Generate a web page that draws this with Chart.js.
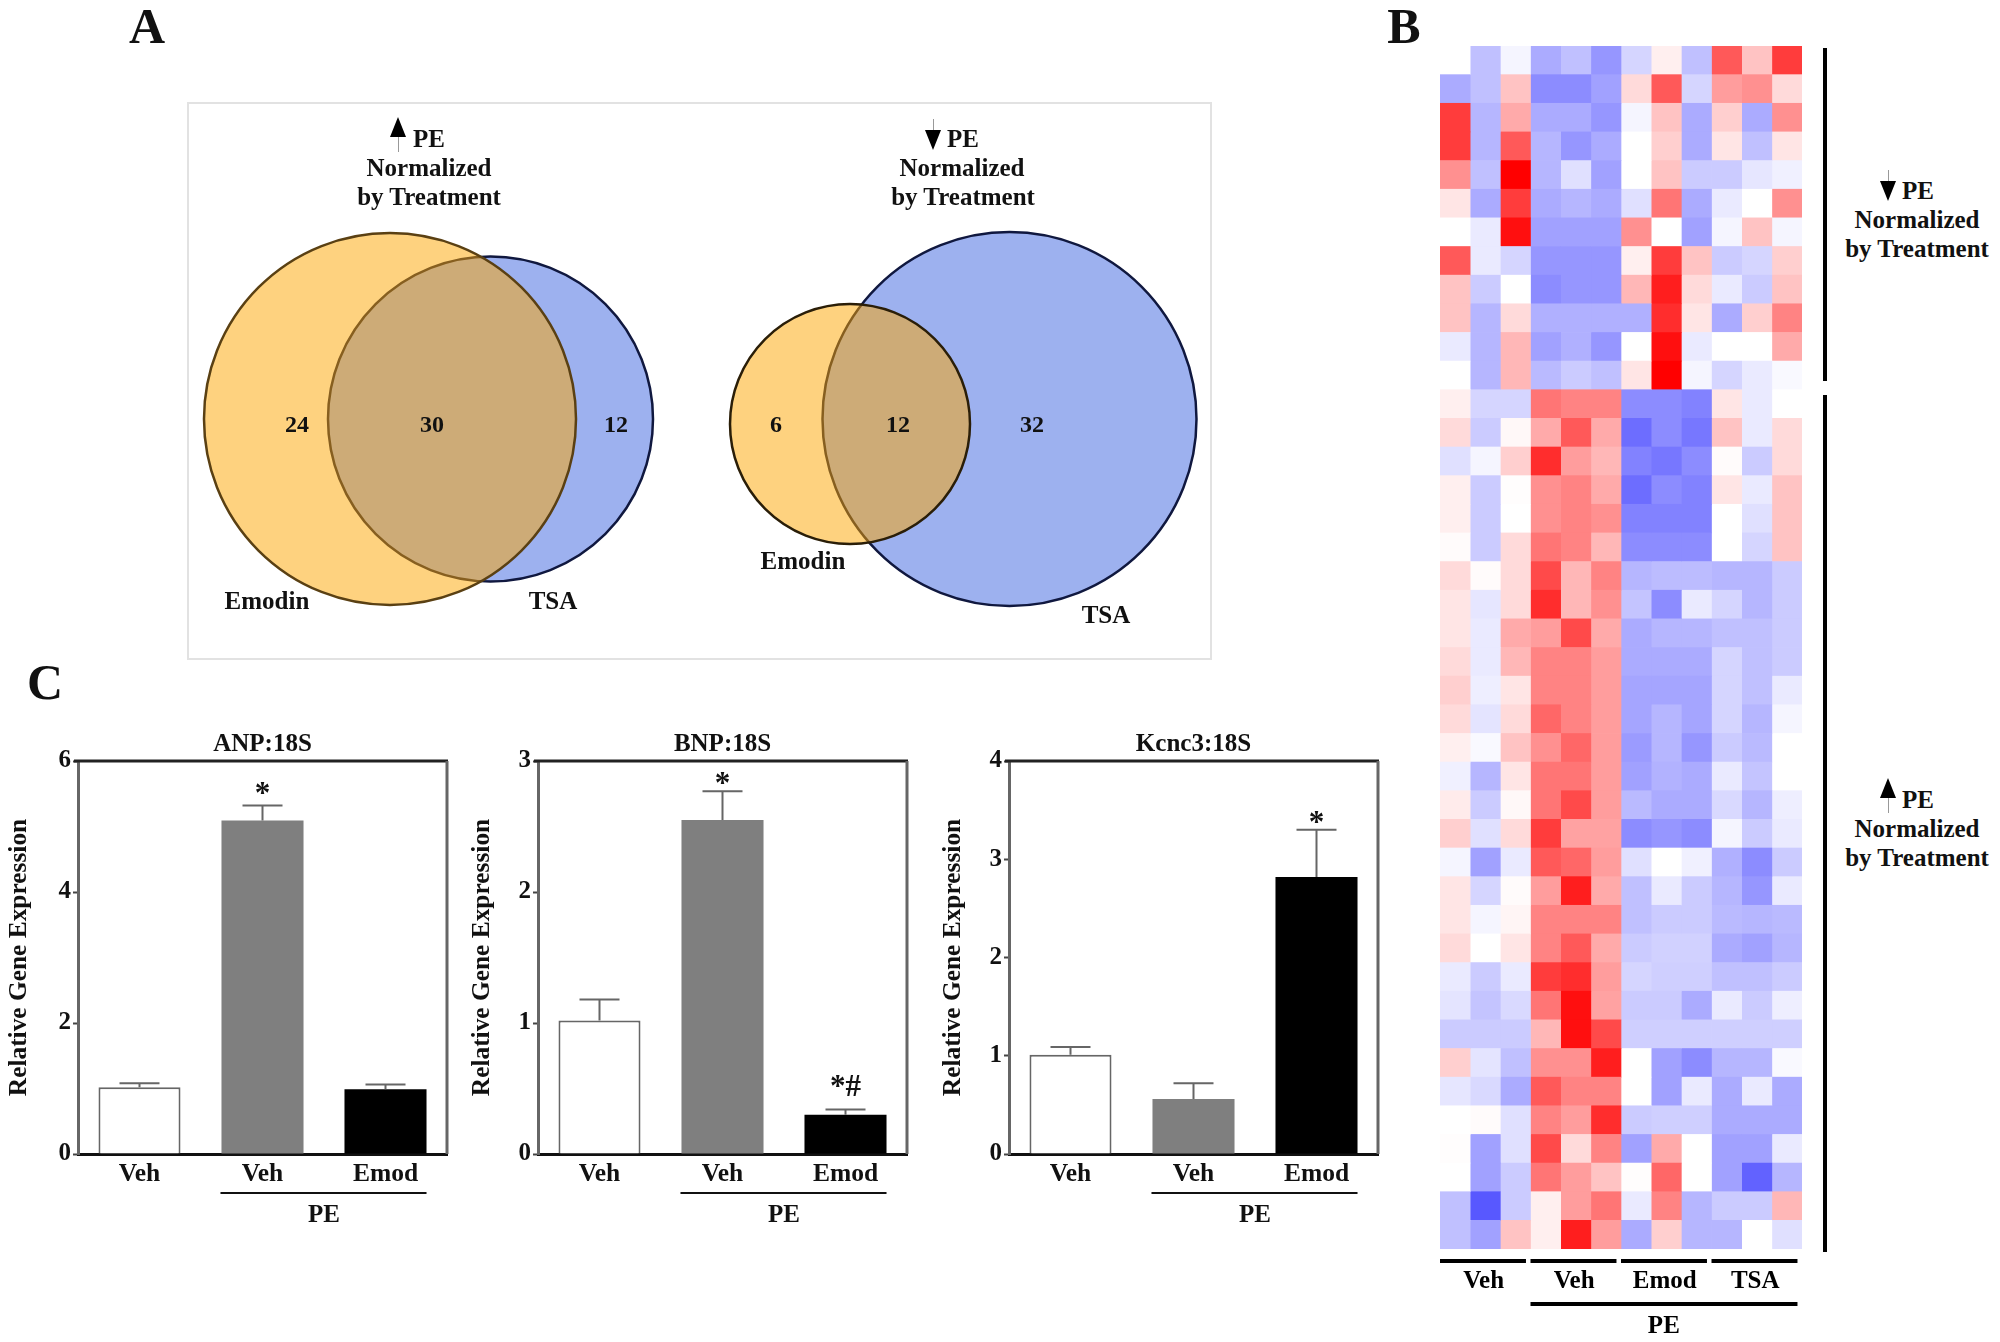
<!DOCTYPE html>
<html>
<head>
<meta charset="utf-8">
<title>Emodin and TSA figure</title>
<script src="https://cdn.jsdelivr.net/npm/chart.js@4"></script>
<style>
  html,body{margin:0;padding:0;background:#fff;}
  body{position:relative;width:2000px;height:1342px;overflow:hidden;font-family:"Liberation Serif",serif;font-weight:bold;color:#111;}
  canvas{position:absolute;}
  .txt{position:absolute;transform:translate(-50%,-50%);white-space:nowrap;line-height:1;}
  .frame{position:absolute;left:187px;top:102px;width:1021px;height:554px;border:2px solid #e2e2e2;}
  .bar{position:absolute;background:#000;}
  .tri{position:absolute;width:0;height:0;border-left:8px solid transparent;border-right:8px solid transparent;}
  .stem{position:absolute;width:1px;background:#999;}
</style>
</head>
<body>

<div class="frame"></div>
<canvas id="venn" style="left:187px;top:102px"></canvas>
<canvas id="anp" style="left:0px;top:730px"></canvas>
<canvas id="bnp" style="left:460px;top:730px"></canvas>
<canvas id="kcnc" style="left:931px;top:730px"></canvas>
<canvas id="heat" style="left:1440px;top:46px"></canvas>

<script>
// =========================
// data
// =========================

// venn circles, in picture pixels of the framed box
const vennEmodinX = [203,663];
const vennEmodinY = [317,322];
const vennEmodinR = [186,120];
const vennTsaX = [303.5,822.5];
const vennTsaY = [317,317];
const vennTsaR = [162.5,187];

// bar panels
const barLabels = ["Veh","Veh","Emod"];

const anpValues = [1.02,5.09,0.99];
const anpErrTop = [1.08,5.32,1.06];
const anpMarks = ["","*",""];

const bnpValues = [1.02,2.55,0.30];
const bnpErrTop = [1.18,2.77,0.34];
const bnpMarks = ["","*","*#"];

const kcncValues = [1.01,0.56,2.82];
const kcncErrTop = [1.09,0.72,3.30];
const kcncMarks = ["","","*"];

// heat map, one row per gene, -10 (blue) .. 10 (red)
const heatGroups = ["Veh","Veh","Emod","TSA"];

const heatRows = [
  [0,-3,-0.5,-4,-3,-5,-2,1,-3,7,3,8],
  [-4,-3,3,-5.5,-5.5,-4.5,2,7,-2,4.5,5,2],
  [8,-3.5,4,-4,-4,-5,-0.5,3,-4,2.5,-4,5],
  [8,-3.5,7,-3.5,-5,-4,0,2.5,-4,1.5,-3,1.5],
  [5,-3,10,-3.5,-1.5,-4.5,0,3,-2.5,-2.5,-1.2,-0.7],
  [1.5,-4,8,-4,-3.5,-4,-1.5,6,-4,-1,0,5],
  [0,-1,9.5,-4.5,-4.5,-4.5,5,0,-4.5,-0.5,3,-0.5],
  [7,-1,-2,-5,-5,-5,1,8,3,-2.5,-2,2.5],
  [3,-2.5,0,-5.5,-5,-5,3.5,9,2,-1,-2.5,3],
  [3,-3.5,2,-3.8,-3.8,-3.8,-3.8,8.5,1.5,-4,2.5,5.5],
  [-1,-3.5,3.5,-4.5,-3.8,-5,0,9.5,-1,0,0,4],
  [0,-3.5,3.5,-3.3,-2.5,-3,1.5,10,-0.5,-2,-1,-0.3],
  [1,-2,-2,6,5.5,5.5,-5.5,-5.5,-6,1.5,-1,0],
  [2,-2.5,0.5,4,7,4,-7,-5.5,-6.5,3,-1,2],
  [-1.5,-0.5,2.5,8.5,4.5,3.5,-6,-6.5,-5.5,0.3,-2.5,2],
  [1,-2.5,0.2,5,5.5,4,-7,-5.5,-6,1.5,-1,3],
  [1,-2.5,0,5,5.5,5,-6,-6,-6,0,-1.5,3],
  [0.3,-2.5,2,6,5.5,3.5,-5.5,-5.5,-5.5,0,-2,3],
  [2,0.3,2,7.5,3.5,5.5,-3.5,-3.2,-3.2,-3.5,-3.5,-2.5],
  [1.5,-1.2,2,8.5,3.5,5,-2.8,-5.5,-1,-2,-3.5,-2.5],
  [1.5,-1,4,4.5,7.5,4,-4,-3.5,-3.5,-3,-3,-2.5],
  [2,-1,3.5,5.5,5.5,4.5,-4,-4,-4,-2,-3,-2.5],
  [2.5,-0.8,1.5,5.5,5.5,4.5,-4.3,-4.3,-4.3,-2,-3,-1],
  [2,-1.3,2,6.5,5.5,4.5,-4.3,-3.5,-4.3,-2,-3.5,-0.5],
  [1,-0.3,3,5,6.5,4.5,-4.8,-3.5,-5,-2.5,-3.3,0],
  [-0.7,-3.5,1.5,6,6,4.5,-4.5,-3.7,-4,-1,-2.8,0],
  [1.2,-2.5,0.5,6,7.5,4.5,-3.3,-4,-4,-1.8,-3.5,-0.8],
  [2.5,-1.5,2,8,4.3,4.3,-5.5,-5,-5.5,-0.5,-2.5,-1],
  [-0.5,-4.5,-1,7,6.5,4.5,-1.5,0,-0.7,-3.8,-5.5,-2.5],
  [1.5,-2,0.3,4.5,9,4,-3,-1,-2.5,-3.5,-5,-1],
  [1.5,-0.5,0.7,5.5,5.5,5.5,-3,-2.5,-2.5,-3.3,-3.5,-3.3],
  [2,0,1.5,5.5,7,4,-2.5,-2.2,-2.2,-4,-4.5,-3.5],
  [-1,-2.5,-1,8,8.5,4.5,-2,-2.3,-2.3,-3,-3,-2.5],
  [-1.3,-2.8,-1.8,6,9.5,4.3,-2.5,-2.5,-4,-1,-2.5,-0.8],
  [-2.5,-2.5,-2.5,3.5,9.5,7.5,-2.3,-2.3,-2.3,-2.3,-2.3,-2.3],
  [2.5,-1.3,-3,5,5,9,0,-4.5,-5.5,-3.5,-3.5,-0.3],
  [-1.2,-1.8,-4,7,5.5,5.5,0,-4.5,-1,-4,-1,-4],
  [0,0.3,-1.5,5.5,4.5,8.5,-2.5,-2.3,-2.3,-4,-4,-4],
  [0.2,-4.5,-1.5,7.5,2,5.5,-4.5,4,0,-4.5,-4.5,-1],
  [0,-4.5,-2.5,6,4.5,3,0.2,6.5,0,-4.5,-7.5,-3.5],
  [-3,-8,-2.5,1,4.5,6,-1,5.5,-3.5,-2.5,-2.5,3.5],
  [-3,-4.5,3,1,9,4.5,-4,2.5,-3.5,-3.5,0,-1.5]
];

const FONT = "'Liberation Serif'";

Chart.defaults.font.family = FONT;
Chart.defaults.font.weight = "bold";
Chart.defaults.color = "#111";
Chart.defaults.animation = false;
Chart.defaults.plugins.legend.display = false;
Chart.defaults.plugins.tooltip.enabled = false;

function sizeCanvas(id,w,h){

  const c = document.getElementById(id);
  c.width = w;
  c.height = h;
  c.style.width = w + "px";
  c.style.height = h + "px";
  return c;

}

function addText(text,x,y,size){

  const d = document.createElement("div");
  d.className = "txt";
  d.textContent = text;
  d.style.left = x + "px";
  d.style.top = y + "px";
  d.style.fontSize = (size || 25) + "px";
  document.body.appendChild(d);

}

function addArrow(x,y,up){

  // triangle with the thin stem the figure has behind it
  const t = document.createElement("div");
  t.className = "tri";
  t.style.left = (x-8) + "px";
  t.style.top = y + "px";
  t.style[up ? "borderBottom" : "borderTop"] = "20px solid #000";
  document.body.appendChild(t);

  const s = document.createElement("div");
  s.className = "stem";
  s.style.left = x + "px";
  s.style.top = (up ? y+20 : y-11) + "px";
  s.style.height = (up ? 15 : 11) + "px";
  document.body.appendChild(s);

}

function addRule(x,y,w,h){

  const b = document.createElement("div");
  b.className = "bar";
  b.style.cssText += `left:${x}px;top:${y}px;width:${w}px;height:${h}px`;
  document.body.appendChild(b);

}

// =========================
// venn
// =========================

function toPoints(xs,ys,rs){

  return xs.map((x,i)=>({x:x,y:ys[i],r:rs[i]}));

}

sizeCanvas("venn",1023,558);

new Chart(document.getElementById("venn"),{

  type:"bubble",

  data:{
    datasets:[
      {
        // first dataset is painted last, so Emodin lies over TSA
        data:toPoints(vennEmodinX,vennEmodinY,vennEmodinR),
        backgroundColor:"rgba(253,165,0,.5)",
        borderColor:["#5a4013","#2a1e08"],
        borderWidth:2.5,
        clip:false
      },
      {
        data:toPoints(vennTsaX,vennTsaY,vennTsaR),
        backgroundColor:"#9db1ef",
        borderColor:"#10183f",
        borderWidth:2.5,
        clip:false
      }
    ]
  },

  options:{
    responsive:false,
    layout:{padding:0,autoPadding:false},
    scales:{
      x:{display:false,min:0,max:1023},
      y:{display:false,min:0,max:558,reverse:true}
    }
  }

});

// =========================
// bar panels
// =========================

const barMarks = {

  id:"barMarks",

  afterDraw(chart,args,opts){

    const ctx = chart.ctx;
    const area = chart.chartArea;
    const y = chart.scales.y;
    const bars = chart.getDatasetMeta(0).data;

    ctx.save();

    // top and right sides of the plot box
    ctx.strokeStyle = "#222";
    ctx.lineWidth = 3;
    ctx.beginPath();
    ctx.moveTo(area.left-4,area.top);
    ctx.lineTo(area.right+1,area.top);
    ctx.stroke();

    ctx.strokeStyle = "#666";
    ctx.beginPath();
    ctx.moveTo(area.right,area.top);
    ctx.lineTo(area.right,area.bottom);
    ctx.stroke();

    // error whiskers and significance marks
    ctx.strokeStyle = "#666";
    ctx.lineWidth = 2;
    ctx.fillStyle = "#111";
    ctx.textAlign = "center";
    ctx.textBaseline = "middle";

    bars.forEach((bar,i)=>{

      const top = y.getPixelForValue(opts.errTop[i]);

      ctx.beginPath();
      ctx.moveTo(bar.x,bar.y);
      ctx.lineTo(bar.x,top);
      ctx.moveTo(bar.x-20,top);
      ctx.lineTo(bar.x+20,top);
      ctx.stroke();

      if(opts.marks[i]){
        ctx.font = "bold 31px " + FONT;
        ctx.fillText(opts.marks[i],bar.x,top-opts.markGap[i]);
      }

    });

    // PE bracket under the two treated bars
    const left = bars[1].x - bars[1].width/2;
    const right = bars[2].x + bars[2].width/2;

    ctx.strokeStyle = "#111";
    ctx.lineWidth = 2;
    ctx.beginPath();
    ctx.moveTo(left-1,area.bottom+39);
    ctx.lineTo(right,area.bottom+39);
    ctx.stroke();

    ctx.font = "bold 25px " + FONT;
    ctx.fillText("PE",(left+right)/2,area.bottom+62);

    ctx.restore();

  }

};

function barChart(id,title,values,errTop,marks,markGap,maxY,step,titlePad){

  sizeCanvas(id,450,510);

  return new Chart(document.getElementById(id),{

    type:"bar",

    data:{
      labels:barLabels,
      datasets:[{
        data:values,
        backgroundColor:["#fff","#7f7f7f","#000"],
        borderColor:["#666","#7f7f7f","#000"],
        borderWidth:[2,0,0],
        barPercentage:.667,
        categoryPercentage:1
      }]
    },

    options:{

      responsive:false,

      layout:{padding:{right:3}},

      plugins:{
        title:{
          display:true,
          fullSize:false,
          text:title,
          color:"#111",
          font:{size:25,weight:"bold"},
          padding:{top:0,bottom:1}
        },
        barMarks:{errTop:errTop,marks:marks,markGap:markGap}
      },

      scales:{

        x:{
          grid:{display:false,drawTicks:false},
          border:{color:"#111",width:3},
          ticks:{font:{size:25.5},padding:5,color:"#111"},
          afterFit(scale){ scale.height = 86; }
        },

        y:{
          min:0,
          max:maxY,
          grid:{drawOnChartArea:false,tickLength:5,tickWidth:2,tickColor:"#444"},
          border:{color:"#666",width:3},
          ticks:{stepSize:step,font:{size:25},padding:2,color:"#111"},
          title:{
            display:true,
            text:"Relative Gene Expression",
            color:"#111",
            font:{size:25.4,weight:"bold"},
            padding:{top:titlePad,bottom:0}
          },
          afterFit(scale){ scale.width = 78; }
        }

      }

    },

    plugins:[barMarks]

  });

}

barChart("anp","ANP:18S",anpValues,anpErrTop,anpMarks,[0,11,0],6,2,4);
barChart("bnp","BNP:18S",bnpValues,bnpErrTop,bnpMarks,[0,6,21],3,1,7);
barChart("kcnc","Kcnc3:18S",kcncValues,kcncErrTop,kcncMarks,[0,0,6],4,1,7);

// =========================
// heat map
// =========================

function heatColor(v){

  // the printed blues stay paler than the reds
  const amount = v >= 0
    ? Math.pow(v/10,1.2)
    : -v/10*.82;

  const k = Math.round(255*(1-amount));

  return v >= 0
    ? `rgb(255,${k},${k})`
    : `rgb(${k},${k},255)`;

}

const heatColumns = heatRows[0].map((_,col)=>({

  data:heatRows.map(()=>1),
  backgroundColor:heatRows.map(row=>heatColor(row[col])),
  borderWidth:0,
  barPercentage:1,
  categoryPercentage:1

}));

const heatGroupMarks = {

  id:"heatGroupMarks",

  afterDraw(chart){

    const ctx = chart.ctx;
    const x = chart.scales.x;
    const base = chart.chartArea.bottom;

    ctx.save();
    ctx.fillStyle = "#000";
    ctx.strokeStyle = "#000";
    ctx.lineWidth = 4;
    ctx.textAlign = "center";
    ctx.textBaseline = "middle";
    ctx.font = "bold 25px " + FONT;

    heatGroups.forEach((name,g)=>{

      const from = x.getPixelForValue(g*3);
      const to = x.getPixelForValue(g*3+2.85);

      ctx.beginPath();
      ctx.moveTo(from,base+12);
      ctx.lineTo(to,base+12);
      ctx.stroke();

      ctx.fillText(name,x.getPixelForValue(g*3+1.45),base+33);

    });

    ctx.beginPath();
    ctx.moveTo(x.getPixelForValue(3),base+55);
    ctx.lineTo(x.getPixelForValue(11.85),base+55);
    ctx.stroke();

    ctx.fillText("PE",x.getPixelForValue(7.42),base+78);

    ctx.restore();

  }

};

sizeCanvas("heat",362,1296);

new Chart(document.getElementById("heat"),{

  type:"bar",

  data:{
    labels:heatRows.map((_,i)=>i+1),
    datasets:heatColumns
  },

  options:{
    indexAxis:"y",
    responsive:false,
    layout:{padding:{bottom:93}},
    scales:{
      x:{display:false,stacked:true,min:0,max:12},
      y:{display:false,stacked:true}
    }
  },

  plugins:[heatGroupMarks]

});

// =========================
// text around the charts
// =========================

addText("A",147,26,50);
addText("B",1404,26,50);
addText("C",45,682,50);

addArrow(398,117,true);
addText("PE",429,138);
addText("Normalized",429,167);
addText("by Treatment",429,196);

addArrow(933,130,false);
addText("PE",963,138);
addText("Normalized",962,167);
addText("by Treatment",963,196);

addText("24",297,424,24);
addText("30",432,424,24);
addText("12",616,424,24);
addText("6",776,424,24);
addText("12",898,424,24);
addText("32",1032,424,24);

addText("Emodin",267,600);
addText("TSA",553,600);
addText("Emodin",803,560);
addText("TSA",1106,614);

addRule(1823,48,4,333);
addRule(1823,395,4,857);

addArrow(1888,181,false);
addText("PE",1918,190);
addText("Normalized",1917,219);
addText("by Treatment",1917,248);

addArrow(1888,778,true);
addText("PE",1918,799);
addText("Normalized",1917,828);
addText("by Treatment",1917,857);
</script>

</body>
</html>
